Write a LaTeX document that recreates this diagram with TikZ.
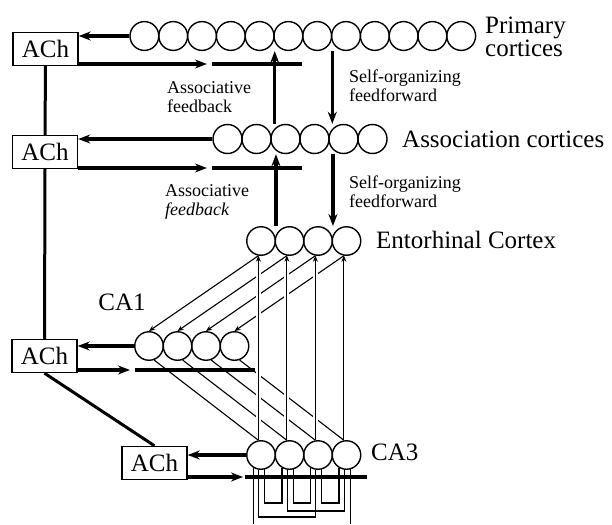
\documentclass[tikz,border=0pt]{standalone}
\usepackage{fontspec}
\usetikzlibrary{arrows.meta}
\setmainfont{Liberation Serif}
\newcommand{\labfont}{\fontsize{25}{21}\selectfont}
\newcommand{\notefont}{\fontsize{18}{19}\selectfont}
\tikzset{
  cell/.style={draw, circle, line width=1.4pt, minimum size=#1, inner sep=0pt},
  cell/.default=28.5pt,
  achbox/.style={draw, line width=1.4pt, minimum width=65pt, minimum height=33pt, inner sep=0pt, font=\labfont},
  lab/.style={font=\labfont, inner sep=0pt},
  note/.style={font=\notefont, inner sep=0pt, anchor=west, align=left},
  flow/.style={-{Stealth[length=12pt,width=9pt]}, line width=3.2pt},
  bar/.style={line width=4.2pt},
  wire/.style={line width=1.1pt},
  tip/.style={-{Stealth[length=6pt,width=5pt]}},
  halo/.style={white, line width=5pt, shorten <=10pt, shorten >=10pt},
}
\begin{document}
\begin{tikzpicture}[>=stealth, x=1pt, y=-1pt]
	\useasboundingbox (0,0) rectangle (612,524);
	% cell layers
	\foreach \i in {1,...,12} \node[cell=28.8pt] (p\i) at (115.6+28.8*\i,36) {};
	\foreach \i in {1,...,6} \node[cell=29pt] (a\i) at (198.5+29*\i,139) {};
	\foreach \i in {1,...,4} \node[cell] (ec\i) at (232.5+28.5*\i,241) {};
	\foreach \i in {1,...,4} \node[cell] (ca1-\i) at (120.5+28.5*\i,346) {};
	\foreach \i in {1,...,4} \node[cell] (ca3-\i) at (232.5+28.5*\i,455) {};
	\node[lab, anchor=west, align=left] (prim) at (485,37) {Primary\\cortices};
	\node[lab, anchor=west] (assoc) at (402,139) {Association cortices};
	\node[lab, anchor=west] (ent) at (376,240) {Entorhinal Cortex};
	\node[lab] (ca1lab) at (122,302) {CA1};
	\node[lab, anchor=west] (ca3lab) at (371,452) {CA3};
	\node[note] (fbtext1) at (167,97) {Associative\\feedback};
	\node[note] (fbtext2) at (165,202) {Associative\\\textit{feedback}};
	\node[note] (fftext1) at (349,86) {Self-organizing\\feedforward};
	\node[note] (fftext2) at (349,192) {Self-organizing\\feedforward};
	% ACh boxes
	\node[achbox] (ach1) at (45.5,49) {ACh};
	\node[achbox] (ach2) at (45,152) {ACh};
	\node[achbox] (ach3) at (44.5,356) {ACh};
	\node[achbox] (ach4) at (154.5,463) {ACh};
	\draw[line width=3pt] (ach1.south) -- (ach2.north);
	\draw[line width=3pt] (ach2.south) -- (ach3.north);
	\draw[line width=3pt] (ach3.south) -- (ach4.north);
	% feedback bars
	\coordinate (fb1) at (212,64); \coordinate (fb1end) at (302,64);
	\coordinate (fb2) at (212,168); \coordinate (fb2end) at (302,168);
	\coordinate (fb3) at (135,370); \coordinate (fb3end) at (255,370);
	\coordinate (fb4) at (245,477); \coordinate (fb4end) at (367,477);
	\draw[flow] (p1.west) -- (p1.west -| ach1.east);
	\draw[flow] (a1.west) -- (a1.west -| ach2.east);
	\draw[flow] (ca1-1.west) -- (ca1-1.west -| ach3.east);
	\draw[flow] (ca3-1.west) -- (ca3-1.west -| ach4.east);
	\draw[flow, shorten >=5pt] (ach1.east |- fb1) -- (fb1);
	\draw[flow, shorten >=5pt] (ach2.east |- fb2) -- (fb2);
	\draw[flow, shorten >=5pt] (ach3.east |- fb3) -- (fb3);
	\draw[flow, shorten >=2pt] (ach4.east |- fb4) -- (fb4);
	% feedforward / feedback between cortices
	\draw[flow] (p5.east |- a3.north) -- (p5.east |- p5.south);
	\draw[flow] (p7.east |- p7.south) -- (p7.east |- a4.north);
	\draw[flow] (ec1.east |- ec1.north) -- (ec1.east |- a3.south);
	\draw[flow] (ec3.east |- a4.south) -- (ec3.east |- ec3.north);
	% hippocampus
	\foreach \i in {1,...,4} \draw[wire, tip] (ec\i.260) -- (ca1-\i.north);
	\foreach \i in {1,...,4} \draw[wire] (ca1-\i.290) -- (ca3-\i.100);
	\foreach \i in {1,...,4} {
		\draw[halo] (ca3-\i.100) -- (ec\i.260);
		\draw[wire, tip] (ca3-\i.100) -- (ec\i.260);
	}
	% recurrent collaterals of CA3
	\coordinate (near) at (0,503); \coordinate (mid) at (0,511);
	\coordinate (far) at (0,517); \coordinate (edge) at (0,524);
	\foreach \i/\j in {1/2,2/3,3/4} \draw[wire] (ca3-\i.285) |- (ca3-\j.240 |- near) -- (ca3-\j.240);
	\draw[wire] (ca3-1.262) |- (ca3-3.262 |- far) -- (ca3-3.262);
	\draw[wire] (ca3-2.262) |- (ca3-4.262 |- mid) -- (ca3-4.262);
	\draw[wire] (ca3-1.240) -- (ca3-1.240 |- edge);
	\draw[wire] (ca3-4.285) -- (ca3-4.285 |- edge);
	\draw[bar] (fb1) -- (fb1end);
	\draw[bar] (fb2) -- (fb2end);
	\draw[bar] (fb3) -- (fb3end);
	\draw[bar] (fb4) -- (fb4end);
\end{tikzpicture}
\end{document}
